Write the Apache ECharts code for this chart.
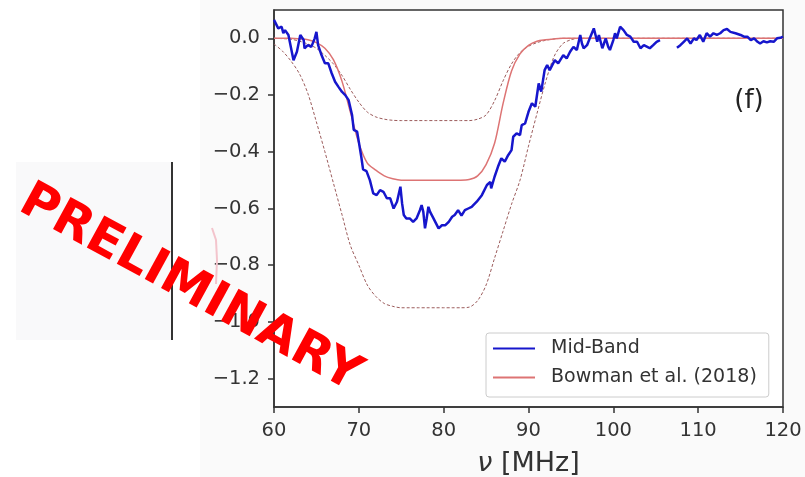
<!DOCTYPE html>
<html><head><meta charset="utf-8">
<script src="https://cdn.jsdelivr.net/npm/echarts@6/dist/echarts.min.js"></script>
<style>html,body{margin:0;padding:0;background:#fff}#c{width:805px;height:477px}</style>
</head><body><div id="c"></div>
<script>
// Mid-Band measurement (MHz, value); null marks the gap
var blueFreq = [60.0,60.5,60.9,61.1,61.3,61.7,61.9,62.3,62.7,63.1,63.5,63.6,64.0,64.4,64.8,65.0,65.2,65.6,66.0,66.4,66.8,67.2,67.6,68.0,68.4,68.8,69.2,69.4,69.8,70.0,70.3,70.5,70.9,71.3,71.7,72.1,72.5,72.9,73.3,73.7,74.1,74.5,74.9,75.1,75.3,75.6,76.0,76.4,76.8,77.2,77.4,77.6,77.8,78.0,78.2,78.4,78.8,79.4,79.8,80.2,80.6,81.0,81.3,81.7,82.1,82.5,82.9,83.3,83.9,84.5,85.1,85.5,85.6,86.0,86.4,86.8,87.2,87.6,88.0,88.2,88.6,89.0,89.2,89.6,90.0,90.4,90.8,91.2,91.5,91.9,92.2,92.5,93.1,93.5,94.1,94.5,94.9,95.3,95.7,96.1,96.3,96.5,96.9,97.3,97.7,97.9,98.1,98.3,98.7,98.9,99.1,99.4,99.6,100.0,100.2,100.4,100.8,101.2,101.6,102.0,102.4,102.8,103.2,103.6,104.0,104.3,104.7,105.1,105.5,106.5,107.5,107.9,108.3,108.7,109.1,109.5,109.8,110.2,110.6,111.0,111.4,111.8,112.2,112.6,113.0,113.4,113.8,114.4,115.0,115.4,115.8,116.2,116.6,117.0,117.3,117.7,118.1,118.5,118.9,119.3,119.7,120.0];
var blueVal = [0.065,0.035,0.041,0.018,0.029,0.012,0.018,-0.077,-0.047,0.012,-0.006,-0.035,-0.024,-0.030,0.000,0.023,-0.024,-0.059,-0.088,-0.088,-0.123,-0.153,-0.171,-0.188,-0.200,-0.218,-0.270,-0.323,-0.329,-0.365,-0.420,-0.462,-0.468,-0.500,-0.547,-0.553,-0.535,-0.541,-0.564,-0.564,-0.600,-0.576,-0.523,-0.582,-0.623,-0.635,-0.635,-0.647,-0.635,-0.606,-0.588,-0.612,-0.670,-0.635,-0.594,-0.612,-0.635,-0.670,-0.659,-0.659,-0.647,-0.629,-0.623,-0.606,-0.625,-0.606,-0.600,-0.594,-0.576,-0.553,-0.517,-0.506,-0.529,-0.488,-0.453,-0.423,-0.435,-0.412,-0.394,-0.347,-0.335,-0.341,-0.306,-0.300,-0.259,-0.229,-0.241,-0.159,-0.188,-0.112,-0.094,-0.112,-0.077,-0.088,-0.059,-0.071,-0.047,-0.030,-0.041,0.012,-0.018,-0.035,-0.024,0.006,0.035,0.012,-0.012,0.012,-0.035,-0.018,0.000,-0.030,-0.041,-0.006,0.018,0.000,0.041,0.029,0.012,0.006,-0.012,-0.012,-0.035,-0.024,-0.030,-0.035,-0.024,-0.012,-0.006,null,-0.033,-0.024,-0.012,0.000,-0.018,0.000,-0.006,0.012,-0.012,0.018,0.006,0.018,0.012,0.018,0.029,0.033,0.023,0.018,0.012,0.006,0.006,-0.006,0.000,-0.012,-0.018,-0.010,-0.014,-0.010,-0.012,0.000,0.002,0.006];
// Bowman et al. (2018) best fit and envelopes
var bowFreq  = [60,61,62,63,64,65,66,67,68,69,70,71,72,73,74,75,76,77,78,79,80,81,82,83,84,85,86,87,88,89,90,91,92,93,94,95,96,100,105,110,115,120];
var bowMid   = [0,0,0,-0.002,-0.005,-0.015,-0.035,-0.075,-0.15,-0.26,-0.37,-0.44,-0.465,-0.485,-0.495,-0.5,-0.5,-0.5,-0.5,-0.5,-0.5,-0.5,-0.5,-0.498,-0.485,-0.445,-0.37,-0.23,-0.115,-0.055,-0.025,-0.01,-0.005,-0.002,0,0,0,0,0,0,0,0];
var bowUpper = [0,-0.001,-0.003,-0.01,-0.02,-0.035,-0.06,-0.09,-0.13,-0.18,-0.225,-0.26,-0.277,-0.285,-0.289,-0.29,-0.29,-0.29,-0.29,-0.29,-0.29,-0.29,-0.29,-0.29,-0.285,-0.27,-0.22,-0.15,-0.09,-0.05,-0.028,-0.015,-0.007,-0.002,0,0,0,0,0,0,0,0];
var bowLower = [-0.02,-0.045,-0.08,-0.125,-0.195,-0.295,-0.4,-0.51,-0.62,-0.73,-0.8,-0.87,-0.91,-0.935,-0.945,-0.95,-0.95,-0.95,-0.95,-0.95,-0.95,-0.95,-0.95,-0.948,-0.925,-0.87,-0.775,-0.68,-0.585,-0.5,-0.38,-0.265,-0.155,-0.065,-0.02,-0.005,0,0,0,0,0,0];
var yTicks = [-1.2,-1.0,-0.8,-0.6,-0.4,-0.2,0.0];
var seriesNames = ['Mid-Band','Bowman et al. (2018)'];

function pairs(xs, ys){ return xs.map(function(x,i){ return [x, ys[i]]; }); }
var FONT = 'DejaVu Sans';
var BLUE = '#1616cc', RED = '#dd7474';
var chart = echarts.init(document.getElementById('c'), null, {renderer:'canvas'});
chart.setOption({
  animation:false,
  backgroundColor:'#ffffff',
  textStyle:{fontFamily:FONT},
  graphic:[
    {type:'rect', z:-10, silent:true, shape:{x:200,y:0,width:605,height:477}, style:{fill:'#fafafa'}},
    {type:'rect', z:-10, silent:true, shape:{x:16,y:162,width:156,height:178}, style:{fill:'#f9f9fa'}},
    {type:'rect', z:-9, silent:true, shape:{x:274,y:10,width:509,height:397}, style:{fill:'#ffffff'}},
    {type:'line', z:5, silent:true, shape:{x1:172,y1:162,x2:172,y2:340}, style:{stroke:'#333',lineWidth:2}},
    {type:'polyline', z:5, silent:true, shape:{points:[[212,228],[216,240],[217,260],[216,284]]}, style:{stroke:'#f3c4cc',lineWidth:2,fill:null}},
    {type:'text', z:100, silent:true, x:190, y:289, rotation:-0.5,
     style:{text:'PRELIMINARY', fill:'#ff0000', font:'bold 50px "DejaVu Sans"', textAlign:'center', textVerticalAlign:'middle'}},
    {type:'text', z:20, silent:true, x:749, y:101,
     style:{text:'(f)', fill:'#222', font:'26px "DejaVu Sans"', textAlign:'center', textVerticalAlign:'middle'}}
  ],
  grid:{left:274,right:22,top:10,bottom:70,show:true,borderColor:'#333',borderWidth:1.5,backgroundColor:'transparent',
        containLabel:false, outerBoundsMode:'none'},
  legend:{
    data:[
      {name:seriesNames[0], icon:'rect', itemStyle:{color:BLUE}},
      {name:seriesNames[1], icon:'rect', itemStyle:{color:RED}}
    ],
    orient:'vertical', left:486, top:333,
    padding:[6,12,10,7], itemGap:10, itemWidth:42, itemHeight:2,
    borderColor:'#cccccc', borderWidth:1, borderRadius:3, backgroundColor:'#ffffff',
    textStyle:{fontSize:19, color:'#333', fontFamily:FONT, padding:[0,0,0,11]}
  },
  xAxis:{
    type:'value', min:60, max:120, interval:10,
    name:'{i|ν} [MHz]', nameLocation:'middle', nameGap:43,
    nameTextStyle:{fontSize:27, color:'#333', fontFamily:FONT, rich:{i:{fontStyle:'italic', fontSize:27, color:'#333', fontFamily:FONT}}},
    axisLine:{onZero:false, lineStyle:{color:'#333', width:1.5}},
    axisTick:{show:true, inside:false, length:6, lineStyle:{color:'#333', width:1.5}},
    axisLabel:{fontSize:19.5, color:'#333', margin:14, fontFamily:FONT},
    splitLine:{show:false}
  },
  yAxis:{
    type:'value', min:-1.3, max:0.1,
    axisLine:{show:true, onZero:false, lineStyle:{color:'#333', width:1.5}},
    axisTick:{show:true, length:6, lineStyle:{color:'#333', width:1.5}, customValues:yTicks},
    axisLabel:{fontSize:19.5, color:'#333', margin:14, fontFamily:FONT, customValues:yTicks,
      formatter:function(v){ return (v < -1e-9 ? '\u2212' : '') + Math.abs(v).toFixed(1); }},
    splitLine:{show:false}
  },
  series:[
    {name:'upper', type:'line', data:pairs(bowFreq,bowUpper), symbol:'none', smooth:0.3, z:2,
     lineStyle:{color:'#9c5c5c', width:1, type:[3,2]}},
    {name:'lower', type:'line', data:pairs(bowFreq,bowLower), symbol:'none', smooth:0.3, z:2,
     lineStyle:{color:'#9c5c5c', width:1, type:[3,2]}},
    {name:seriesNames[1], type:'line', data:pairs(bowFreq,bowMid), symbol:'none', smooth:0.3, z:3,
     itemStyle:{color:RED}, lineStyle:{color:RED, width:1.5}},
    {name:seriesNames[0], type:'line', data:pairs(blueFreq,blueVal), symbol:'none', connectNulls:false, z:4,
     itemStyle:{color:BLUE}, lineStyle:{color:BLUE, width:2.5}}
  ]
});
</script></body></html>
